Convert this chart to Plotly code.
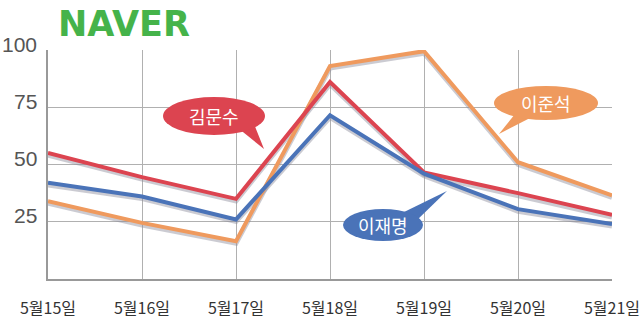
import plotly.graph_objects as go
import numpy as np

dates = ["5월15일", "5월16일", "5월17일", "5월18일", "5월19일", "5월20일", "5월21일"]
kim = [55, 44.5, 35, 86, 46.5, 37.5, 28]
lee_jm = [42, 36, 26, 71.5, 46, 30.5, 24]
lee_js = [34, 24.5, 16.5, 93, 99.5, 51, 36.5]
y_ticks = [25, 50, 75, 100]

RED = "#dc4450"
BLUE = "#4a73b8"
ORANGE = "#ef9a5e"

W, H = 640, 325
L, R, T, B = 48, 28, 50, 46
PW, PH = W - L - R, H - T - B


def px(x):
    return (x - L) / PW


def py(y):
    return (H - B - y) / PH


fig = go.Figure()
xi = list(range(len(dates)))
for vals, col in [(lee_js, ORANGE), (kim, RED), (lee_jm, BLUE)]:
    fig.add_trace(go.Scatter(x=xi, y=np.array(vals) - 0.9, mode="lines",
                             line=dict(color="rgba(140,140,155,0.45)", width=5),
                             hoverinfo="skip", showlegend=False))
for name, vals, col in [("이준석", lee_js, ORANGE), ("김문수", kim, RED), ("이재명", lee_jm, BLUE)]:
    fig.add_trace(go.Scatter(x=xi, y=vals, mode="lines", name=name,
                             line=dict(color=col, width=4), showlegend=False))

shapes = []
annotations = []


def bubble(cx, cy, rx, ry, tail, color, text, size=18):
    p = "M " + " L ".join(f"{px(a):.4f},{py(b):.4f}" for a, b in tail) + " Z"
    shapes.append(dict(type="path", path=p, xref="paper", yref="paper",
                       fillcolor=color, line=dict(width=0), layer="above"))
    shapes.append(dict(type="circle", xref="paper", yref="paper",
                       x0=px(cx - rx), x1=px(cx + rx), y0=py(cy + ry), y1=py(cy - ry),
                       fillcolor=color, line=dict(width=0), layer="above"))
    annotations.append(dict(x=px(cx), y=py(cy), xref="paper", yref="paper", text=text,
                            xanchor="center", yanchor="middle",
                            showarrow=False, font=dict(color="white", size=size,
                                                       family="Noto Sans CJK KR")))


bubble(214, 116, 51, 19, [(238, 128), (264, 149), (254, 124)], RED, "김문수")
bubble(383, 225, 40, 16, [(400, 214), (447, 191), (416, 221)], BLUE, "이재명")
bubble(546, 103, 52, 17, [(515, 114), (499, 134), (532, 117)], ORANGE, "이준석")

annotations.append(dict(x=px(56), y=py(24), xref="paper", yref="paper", text="<b>NAVER</b>",
                        showarrow=False, xanchor="left", yanchor="middle",
                        font=dict(color="#45b34a", size=35, family="DejaVu Sans")))

# y tick labels, sitting slightly above their gridlines as in the reference
for v in y_ticks:
    annotations.append(dict(x=0, y=v, xref="paper", yref="y", text=str(v),
                            showarrow=False, xanchor="right", yanchor="middle",
                            xshift=-9, yshift=6,
                            font=dict(size=21, color="#555", family="Liberation Sans")))

fig.update_layout(
    width=W, height=H, margin=dict(l=L, r=R, t=T, b=B, autoexpand=False),
    paper_bgcolor="white", plot_bgcolor="white",
    shapes=shapes, annotations=annotations,
    xaxis=dict(tickmode="array", tickvals=xi, ticktext=dates, range=[0, 6],
               showgrid=True, gridcolor="#b0b0b0", gridwidth=1, automargin=False,
               showline=True, linecolor="#999", linewidth=2, zeroline=False,
               ticks="", ticklabelstandoff=14, ticklabeloverflow="allow",
               tickfont=dict(size=16, color="#333", family="Noto Sans CJK KR")),
    yaxis=dict(tickmode="array", tickvals=y_ticks, range=[0, 100],
               showgrid=True, gridcolor="#b0b0b0", gridwidth=1, automargin=False,
               showline=True, linecolor="#999", linewidth=2, zeroline=False,
               ticks="", showticklabels=False),
)

fig.write_html("out.html")
